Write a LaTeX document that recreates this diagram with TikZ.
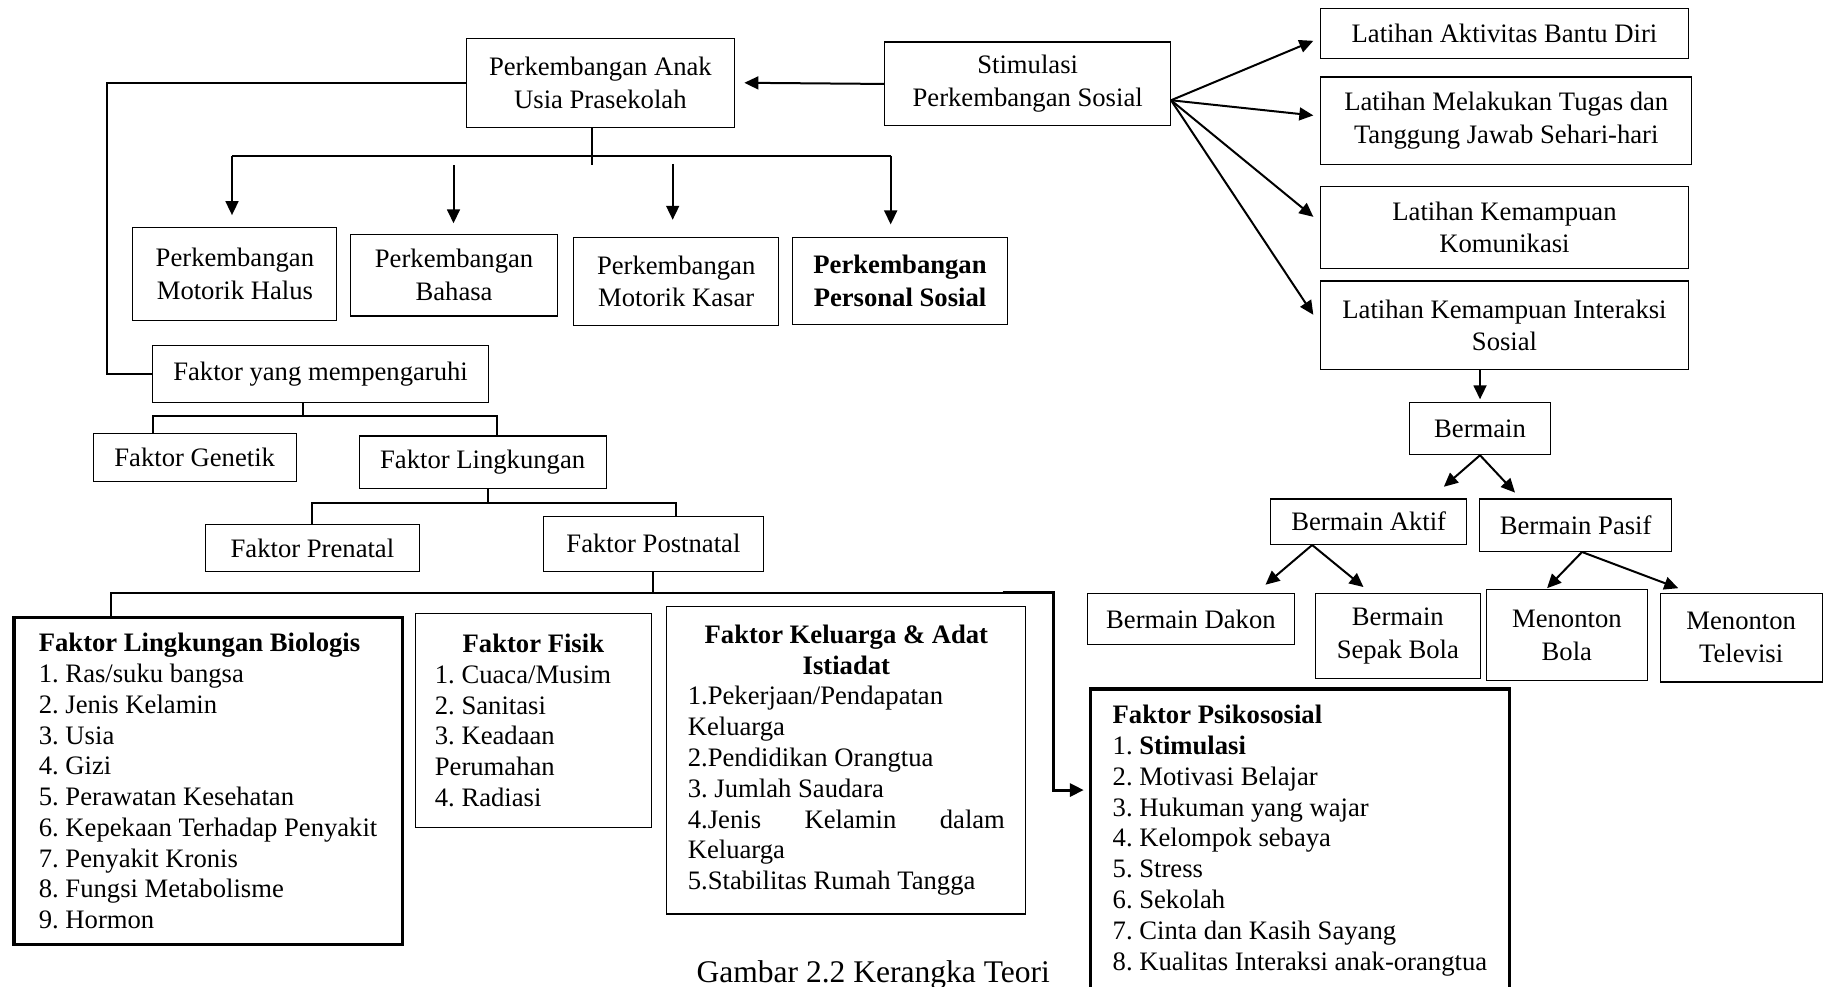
\documentclass[tikz,border=0pt]{standalone}
\usepackage{fontspec}
\setmainfont{Liberation Serif}
\usetikzlibrary{arrows.meta,calc}
\frenchspacing

\begin{document}
\begin{tikzpicture}[
    x = 0.525pt, y = -0.525pt, % one unit per pixel, y grows downwards
    > = {Triangle[length=6.3pt,width=5.8pt]}, % arrow head style
    line width = 0.9pt, % connector style
    font = \fontsize{12}{14.7}\selectfont
    ]

    \tikzset{
    box/.style = {draw, line width=0.5pt, align=center, inner sep=2pt},
    sz/.style 2 args = {minimum width=#1*0.525pt, minimum height=#2*0.525pt},
    listbox/.style = {draw, line width=0.5pt, align=flush left, inner ysep=2pt,
        font=\fontsize{12}{13.86}\selectfont},
    heavy/.style = {line width=1.4pt}
    }
    \useasboundingbox (0,0) rectangle (1568,846);

    % top row
    \node[box, sz={230}{76}] (anak) at (515,71) {Perkembangan Anak\\Usia Prasekolah};
    \node[box, sz={245}{72}] (stim) at (881.5,72) {Stimulasi\\Perkembangan Sosial};

    % latihan column
    \node[box, sz={315}{43}] (lat1) at (1290.5,28.5) {Latihan Aktivitas Bantu Diri};
    \node[box, sz={318}{75}] (lat2) at (1292,103.5) {Latihan Melakukan Tugas dan\\Tanggung Jawab Sehari-hari};
    \node[box, sz={315}{70}] (lat3) at (1290.5,195) {Latihan Kemampuan\\Komunikasi};
    \node[box, sz={315}{76}] (lat4) at (1290.5,279) {Latihan Kemampuan Interaksi\\Sosial};

    % bermain tree
    \node[box, sz={121}{45}] (bermain) at (1269.5,367.5) {Bermain};
    \node[box, sz={168}{39}] (aktif) at (1174,447.5) {Bermain Aktif};
    \node[box, sz={165}{45}] (pasif) at (1351.5,450.5) {Bermain Pasif};
    \node[box, sz={177}{44}] (dakon) at (1021.5,531) {Bermain Dakon};
    \node[box, sz={142}{73}] (sepak) at (1199,545.5) {Bermain\\Sepak Bola};
    \node[box, sz={138}{78}] (mbola) at (1344,545) {Menonton\\Bola};
    \node[box, sz={139}{76}] (mtv) at (1493.5,547) {Menonton\\Televisi};

    % perkembangan row
    \node[box, sz={175}{80}] (halus) at (201.5,235) {Perkembangan\\Motorik Halus};
    \node[box, sz={177}{70}] (bahasa) at (389.5,236) {Perkembangan\\Bahasa};
    \node[box, sz={176}{75}] (kasar) at (580,241.5) {Perkembangan\\Motorik Kasar};
    \node[box, sz={184}{74}] (personal) at (772,241) {\textbf{Perkembangan}\\\textbf{Personal Sosial}};

    % faktor tree
    \node[box, sz={288}{49}] (faktor) at (275,320.5) {Faktor yang mempengaruhi};
    \node[box, sz={174}{41}] (genetik) at (167,392.5) {Faktor Genetik};
    \node[box, sz={212}{45}] (lingk) at (414,396.5) {Faktor Lingkungan};
    \node[box, sz={184}{40}] (prenatal) at (268,470) {Faktor Prenatal};
    \node[box, sz={189}{47}] (postnatal) at (560.5,466.5) {Faktor Postnatal};

    \node[listbox, heavy, sz={333}{280}] (biologis) at (178.5,670) {
        \textbf{Faktor Lingkungan Biologis}\\
        1. Ras/suku bangsa\\
        2. Jenis Kelamin\\
        3. Usia\\
        4. Gizi\\
        5. Perawatan Kesehatan\\
        6. Kepekaan Terhadap Penyakit\\
        7. Penyakit Kronis\\
        8. Fungsi Metabolisme\\
        9. Hormon};
    \node[listbox, text width=88.7pt, inner xsep=8.9pt, minimum height=96.1pt] (fisik) at (457.5,618) {
        \hfill\textbf{Faktor Fisik}\hfill\null\\
        1. Cuaca/Musim\\
        2. Sanitasi\\
        3. Keadaan\\
        Perumahan\\
        4. Radiasi};
    \node[listbox, text width=142.8pt, inner xsep=9.45pt, minimum height=138.6pt] (keluarga) at (726,652) {
        \hfill\textbf{Faktor Keluarga \& Adat}\hfill\null\\
        \hfill\textbf{Istiadat}\hfill\null\\
        1.Pekerjaan/Pendapatan\\
        Keluarga\\
        2.Pendidikan Orangtua\\
        3. Jumlah Saudara\\
        4.Jenis\hfill Kelamin\hfill dalam\\
        Keluarga\\
        5.Stabilitas Rumah Tangga};
    \node[listbox, heavy, sz={360}{260}] (psiko) at (1115,721) {
        \textbf{Faktor Psikososial}\\
        1. \textbf{Stimulasi}\\
        2. Motivasi Belajar\\
        3. Hukuman yang wajar\\
        4. Kelompok sebaya\\
        5. Stress\\
        6. Sekolah\\
        7. Cinta dan Kasih Sayang\\
        8. Kualitas Interaksi anak-orangtua};

    \node[font=\fontsize{14.2}{16}\selectfont] (caption) at (749,836) {Gambar 2.2 Kerangka Teori};

    % stimulasi
    \path[->] (stim.west) edge ($(anak.east)+(8,0)$);
    \coordinate (fan) at ($(stim.east)+(0,14)$);
    \path[->] (fan) edge ($(lat1.west)+(-6,6.5)$)
                    edge ($(lat2.west)+(-6,-4.5)$)
                    edge ($(lat3.west)+(-6,-9)$)
                    edge ($(lat4.west)+(-6,-9)$);

    % bermain
    \path[->] (bermain.north |- lat4.south) edge ($(bermain.north)+(0,-2)$);
    \path[->] (bermain.south) edge ($(aktif.north east)+(-20,-10)$)
                              edge ($(pasif.north west)+(31,-5)$);
    \coordinate (aktifroot) at ($(aktif.south west)+(36,0)$);
    \path[->] (aktifroot) edge ($(dakon.north east)+(-25,-7)$)
                          edge ($(sepak.north west)+(42,-5)$);
    \coordinate (pasifroot) at ($(pasif.south)+(5.5,0)$);
    \path[->] (pasifroot) edge ($(mbola.north)+(-17,-1)$)
                          edge ($(mtv.north west)+(16,-4)$);

    % perkembangan
    \coordinate (pbus) at ($(halus.north)+(-2.5,-61)$);
    \draw ($(anak.south)+(-7,0)$) -- ++(0,32);
    \draw (pbus) -- ($(personal.north)+(-8,-70)$);
    \path[->] (pbus) edge ($(halus.north)+(-2.5,-10)$)
        ($(bahasa.north)+(-0.5,-59)$) edge ($(bahasa.north)+(-0.5,-9)$)
        ($(kasar.north)+(-3,-63)$) edge ($(kasar.north)+(-3,-15)$)
        ($(personal.north)+(-8,-70)$) edge ($(personal.north)+(-8,-11)$);

    % faktor
    \draw (anak.west) -| ($(faktor.west)+(-39,0)$) -- (faktor.west);
    \draw ($(faktor.south)+(-15,0)$) -- ++(0,12);
    \draw ($(genetik.north)+(-36,0)$) -- ++(0,-15) -| ($(lingk.north)+(12,0)$);
    \draw ($(lingk.south)+(5,0)$) -- ++(0,13);
    \draw (prenatal.north) -- ++(0,-18) -| ($(postnatal.north)+(19.5,0)$);
    \draw (postnatal.south) -- ++(0,18);
    \coordinate (elbow) at ($(postnatal.south)+(344.5,18)$);
    \draw ($(biologis.north)+(-83.5,0)$) |- ($(elbow)+(-45,0)$);
    \draw[heavy, ->] ($(elbow)+(-45,0)$) -| ($(psiko.north west)+(-30,88)$) -- ($(psiko.north west)+(-4,88)$);
\end{tikzpicture}
\end{document}
